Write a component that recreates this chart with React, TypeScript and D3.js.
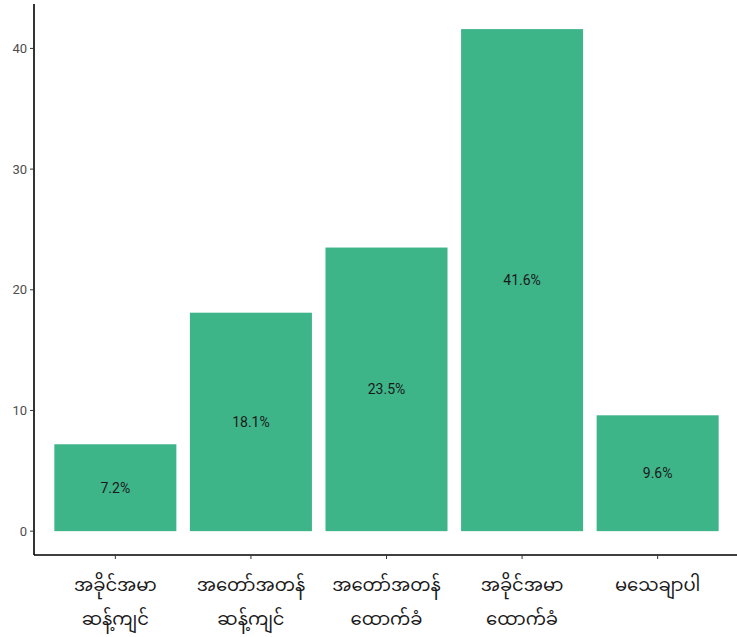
import React from 'react';
import * as d3 from 'd3';

const categories = [
  ['အခိုင်အမာ', 'ဆန့်ကျင်'],
  ['အတော်အတန်', 'ဆန့်ကျင်'],
  ['အတော်အတန်', 'ထောက်ခံ'],
  ['အခိုင်အမာ', 'ထောက်ခံ'],
  ['မသေချာပါ'],
];
const values = [7.2, 18.1, 23.5, 41.6, 9.6];
const yTicks = [0, 10, 20, 30, 40];

const W = 737;
const H = 637;
const margin = { top: 4, right: -2, bottom: 82, left: 34 };
const barColor = '#3eb489';

export default function App() {
  const keys = categories.map((c) => c.join(' '));
  const x = d3.scaleBand<string>()
    .domain(keys)
    .range([margin.left, W - margin.right])
    .paddingInner(0.1)
    .paddingOuter(0.15);

  const yMax = d3.max(values) || 0;
  const pad = yMax * 0.05;
  const y = d3.scaleLinear()
    .domain([-pad * 0.95, yMax + pad])
    .range([H - margin.bottom, margin.top]);

  const axisY = H - margin.bottom;

  return (
    <svg width={W} height={H} style={{ position: 'absolute', left: 0, top: 0, background: '#fff' }}>
      {/* bars */}
      {values.map((v, i) => (
        <g key={keys[i]}>
          <rect
            x={x(keys[i])}
            y={y(v)}
            width={x.bandwidth()}
            height={y(0) - y(v)}
            fill={barColor}
          />
          <text
            x={(x(keys[i]) || 0) + x.bandwidth() / 2}
            y={y(v / 2)}
            dy="0.35em"
            textAnchor="middle"
            fontFamily="Roboto, 'DejaVu Sans', sans-serif"
            fontSize={14}
            fill="#1a1a1a"
          >
            {v.toFixed(1)}%
          </text>
        </g>
      ))}

      {/* y axis */}
      <line x1={margin.left} x2={margin.left} y1={margin.top} y2={axisY} stroke="#000" strokeWidth={1.6} />
      {yTicks.map((t) => (
        <g key={t}>
          <line x1={margin.left - 4} x2={margin.left} y1={y(t)} y2={y(t)} stroke="#333" strokeWidth={1} />
          <text
            x={margin.left - 7}
            y={y(t)}
            dy="0.35em"
            textAnchor="end"
            fontFamily="Roboto, 'DejaVu Sans', sans-serif"
            fontSize={13}
            fill="#4d4d4d"
          >
            {t}
          </text>
        </g>
      ))}

      {/* x axis */}
      <line x1={margin.left} x2={W} y1={axisY} y2={axisY} stroke="#000" strokeWidth={1.6} />
      {categories.map((lines, i) => {
        const cx = (x(keys[i]) || 0) + x.bandwidth() / 2;
        return (
          <g key={keys[i]}>
            <line x1={cx} x2={cx} y1={axisY} y2={axisY + 4} stroke="#333" strokeWidth={1} />
            {lines.map((l, j) => (
              <text
                key={j}
                x={cx}
                y={axisY + 36 + j * 34}
                textAnchor="middle"
                fontFamily="'Noto Sans Myanmar', 'Padauk', 'Myanmar Text', sans-serif"
                fontSize={18}
                fill="#1a1a1a"
              >
                {l}
              </text>
            ))}
          </g>
        );
      })}
    </svg>
  );
}
